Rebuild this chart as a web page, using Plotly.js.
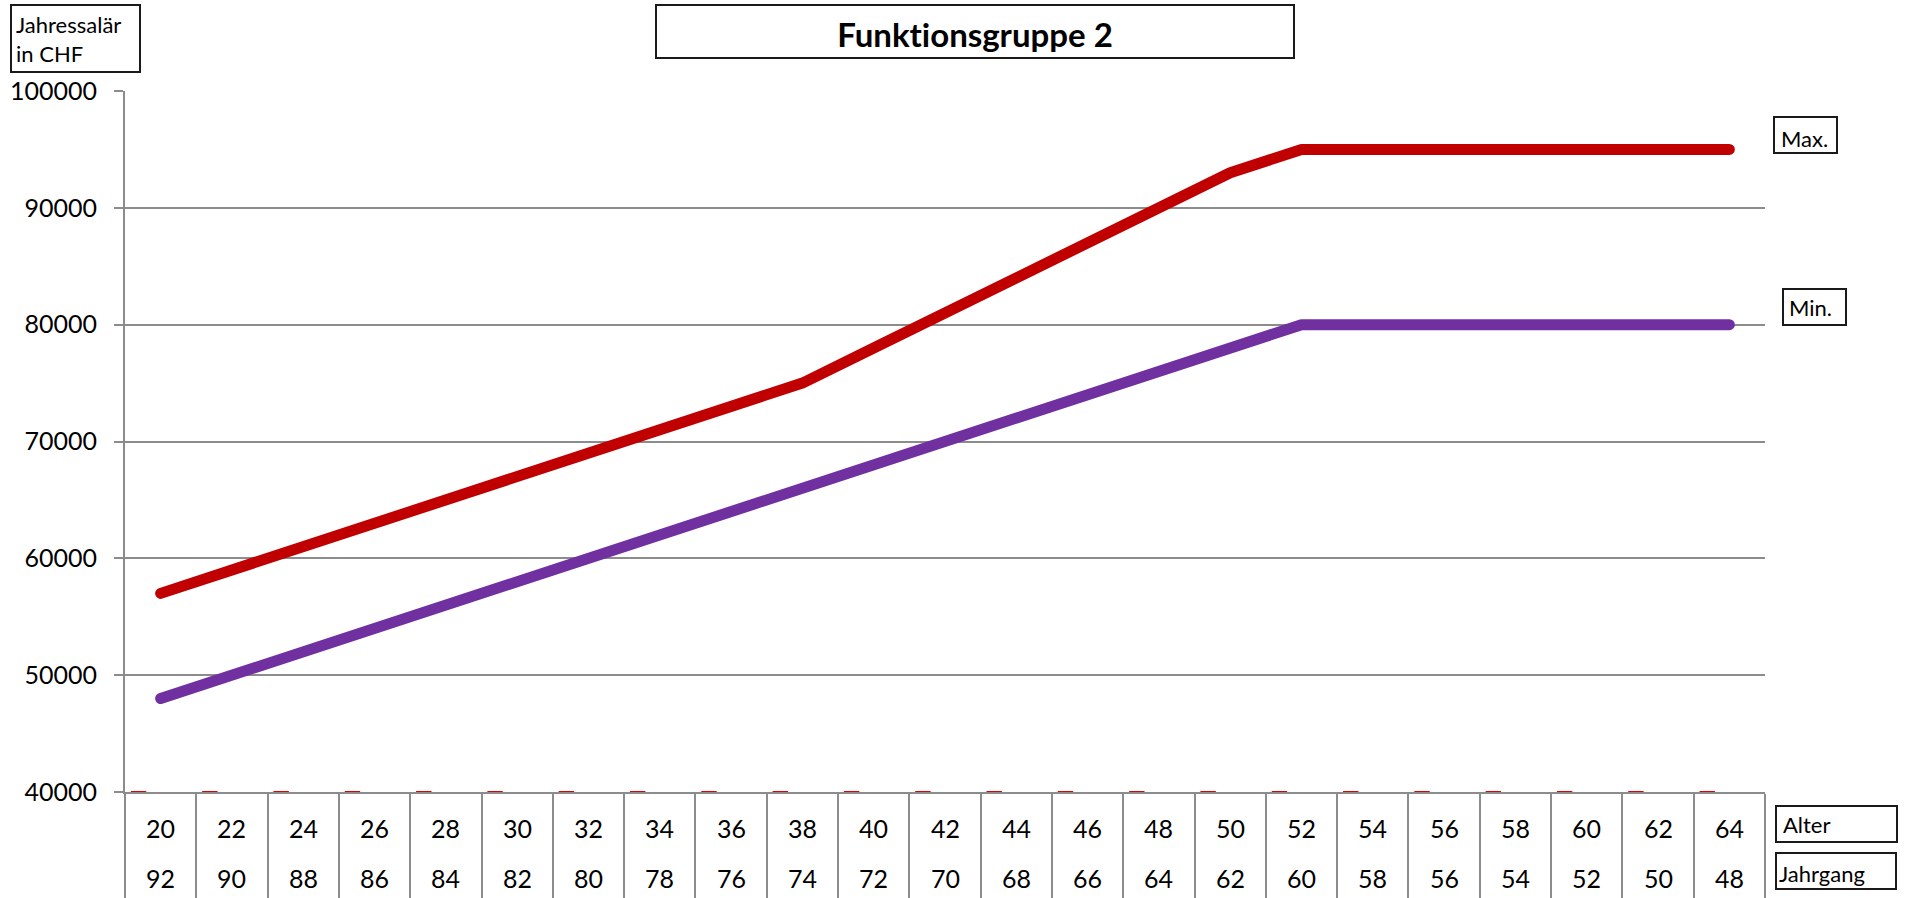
<!DOCTYPE html>
<html>
<head>
<meta charset="utf-8">
<script src="https://cdn.plot.ly/plotly-3.0.1.min.js"></script>
<style>
  html, body { margin: 0; padding: 0; background: #ffffff; }
  #chart { width: 1907px; height: 898px; }
  text { font-variant-ligatures: none; font-feature-settings: "liga" 0; }
  .scatterlayer .js-line { stroke-linecap: round !important; stroke-linejoin: round !important; }
</style>
</head>
<body>
<div id="chart"></div>
<script>
// ---- Data ----
const chartTitle = "Funktionsgruppe 2";
const ages  = [20, 22, 24, 26, 28, 30, 32, 34, 36, 38, 40, 42, 44, 46, 48, 50, 52, 54, 56, 58, 60, 62, 64];
const years = ["92", "90", "88", "86", "84", "82", "80", "78", "76", "74", "72", "70", "68", "66", "64", "62", "60", "58", "56", "54", "52", "50", "48"];
const maxSalary = [57000, 59000, 61000, 63000, 65000, 67000, 69000, 71000, 73000, 75000, 78000, 81000, 84000, 87000, 90000, 93000, 95000, 95000, 95000, 95000, 95000, 95000, 95000];
const minSalary = [48000, 50000, 52000, 54000, 56000, 58000, 60000, 62000, 64000, 66000, 68000, 70000, 72000, 74000, 76000, 78000, 80000, 80000, 80000, 80000, 80000, 80000, 80000];
const baseMarks = [40000, 40000, 40000, 40000, 40000, 40000, 40000, 40000, 40000, 40000, 40000, 40000, 40000, 40000, 40000, 40000, 40000, 40000, 40000, 40000, 40000, 40000, 40000];
const yTickVals = [40000, 50000, 60000, 70000, 80000, 90000, 100000];
const yTitleText = "Jahressalär<br>in CHF";
const rowLabelTop = "Alter";
const rowLabelBottom = "Jahrgang";
const maxName = "Max.";
const minName = "Min.";

// ---- Layout geometry (pixels) ----
const W = 1907, H = 898;
const M = { l: 125, r: 142, t: 91, b: 106 };
const PW = W - M.l - M.r, PH = H - M.t - M.b;
const px = x => (x - M.l) / PW;          // pixel x -> paper
const py = y => (H - M.b - y) / PH;      // pixel y -> paper
const FONT = "Lato, 'Open Sans', sans-serif";
const GRAY = "#8c8c8c";
const BOX = "#1a1a1a";

const step = ages[1] - ages[0];
const boundaries = ages.map(a => a - step / 2).concat([ages[ages.length - 1] + step / 2]);

function box(x0, y0, x1, y1) {
  return { type: "rect", xref: "paper", yref: "paper", x0: px(x0), x1: px(x1), y0: py(y1), y1: py(y0),
           line: { color: BOX, width: 2 }, fillcolor: "rgba(0,0,0,0)", layer: "above" };
}
function label(text, xLeft, yMid, size) {
  return { text: text, xref: "paper", yref: "paper", x: px(xLeft), y: py(yMid), xanchor: "left", yanchor: "middle",
           showarrow: false, align: "left", font: { family: FONT, size: size, color: "#000" } };
}

const traces = [
  { x: ages, y: maxSalary, name: maxName, type: "scatter", mode: "lines",
    line: { color: "#C00000", width: 11 }, hoverinfo: "x+y+name" },
  { x: ages, y: minSalary, name: minName, type: "scatter", mode: "lines",
    line: { color: "#7030A0", width: 11 }, hoverinfo: "x+y+name" },
  { x: ages.map(a => a - 0.62), y: baseMarks, name: "", type: "scatter", mode: "markers", cliponaxis: false,
    marker: { symbol: "line-ew", size: 11, line: { color: "#e00000", width: 2 } }, hoverinfo: "skip" }
];

const annotations = [];
ages.forEach((a, i) => {
  annotations.push({ text: String(a), x: a, xref: "x", y: 0, yref: "paper", yanchor: "middle", yshift: -36,
                     showarrow: false, font: { family: FONT, size: 25, color: "#000" } });
  annotations.push({ text: years[i], x: a, xref: "x", y: 0, yref: "paper", yanchor: "middle", yshift: -86,
                     showarrow: false, font: { family: FONT, size: 25, color: "#000" } });
});
annotations.push(label(yTitleText, 14, 39, 22));
annotations.push(label(maxName, 1779, 138, 22));
annotations.push(label(minName, 1787, 307, 22));
annotations.push(label(rowLabelTop, 1781, 824, 22));
annotations.push(label(rowLabelBottom, 1777, 874, 22));

const shapes = [
  box(656, 5, 1294, 58),
  box(11, 5, 140, 72),
  box(1774, 117, 1837, 153),
  box(1783, 289, 1846, 325),
  box(1776, 806, 1897, 842),
  box(1776, 853, 1896, 889)
];

const layout = {
  width: W, height: H,
  margin: M,
  paper_bgcolor: "#ffffff", plot_bgcolor: "#ffffff",
  showlegend: false,
  font: { family: FONT, color: "#000" },
  title: { text: "<b>" + chartTitle + "</b>", xref: "container", yref: "container",
           x: 975 / W, xanchor: "center", y: 1 - 35 / H, yanchor: "middle",
           font: { family: FONT, size: 33, color: "#000" } },
  xaxis: {
    range: [boundaries[0], boundaries[boundaries.length - 1]],
    tickmode: "array", tickvals: boundaries, showticklabels: false,
    ticks: "outside", ticklen: 106, tickwidth: 2, tickcolor: GRAY,
    showgrid: false, zeroline: false,
    showline: true, linecolor: GRAY, linewidth: 2
  },
  yaxis: {
    range: [yTickVals[0], yTickVals[yTickVals.length - 1]],
    tickmode: "array", tickvals: yTickVals, ticktext: yTickVals.map(String),
    ticks: "outside", ticklen: 9, tickwidth: 2, tickcolor: GRAY,
    ticklabelstandoff: 12,
    tickfont: { family: FONT, size: 25, color: "#000" },
    showgrid: true, gridcolor: GRAY, gridwidth: 2,
    zeroline: false, showline: true, linecolor: GRAY, linewidth: 2
  },
  annotations: annotations,
  shapes: shapes
};

Plotly.newPlot("chart", traces, layout, { staticPlot: true, displayModeBar: false });
</script>
</body>
</html>
